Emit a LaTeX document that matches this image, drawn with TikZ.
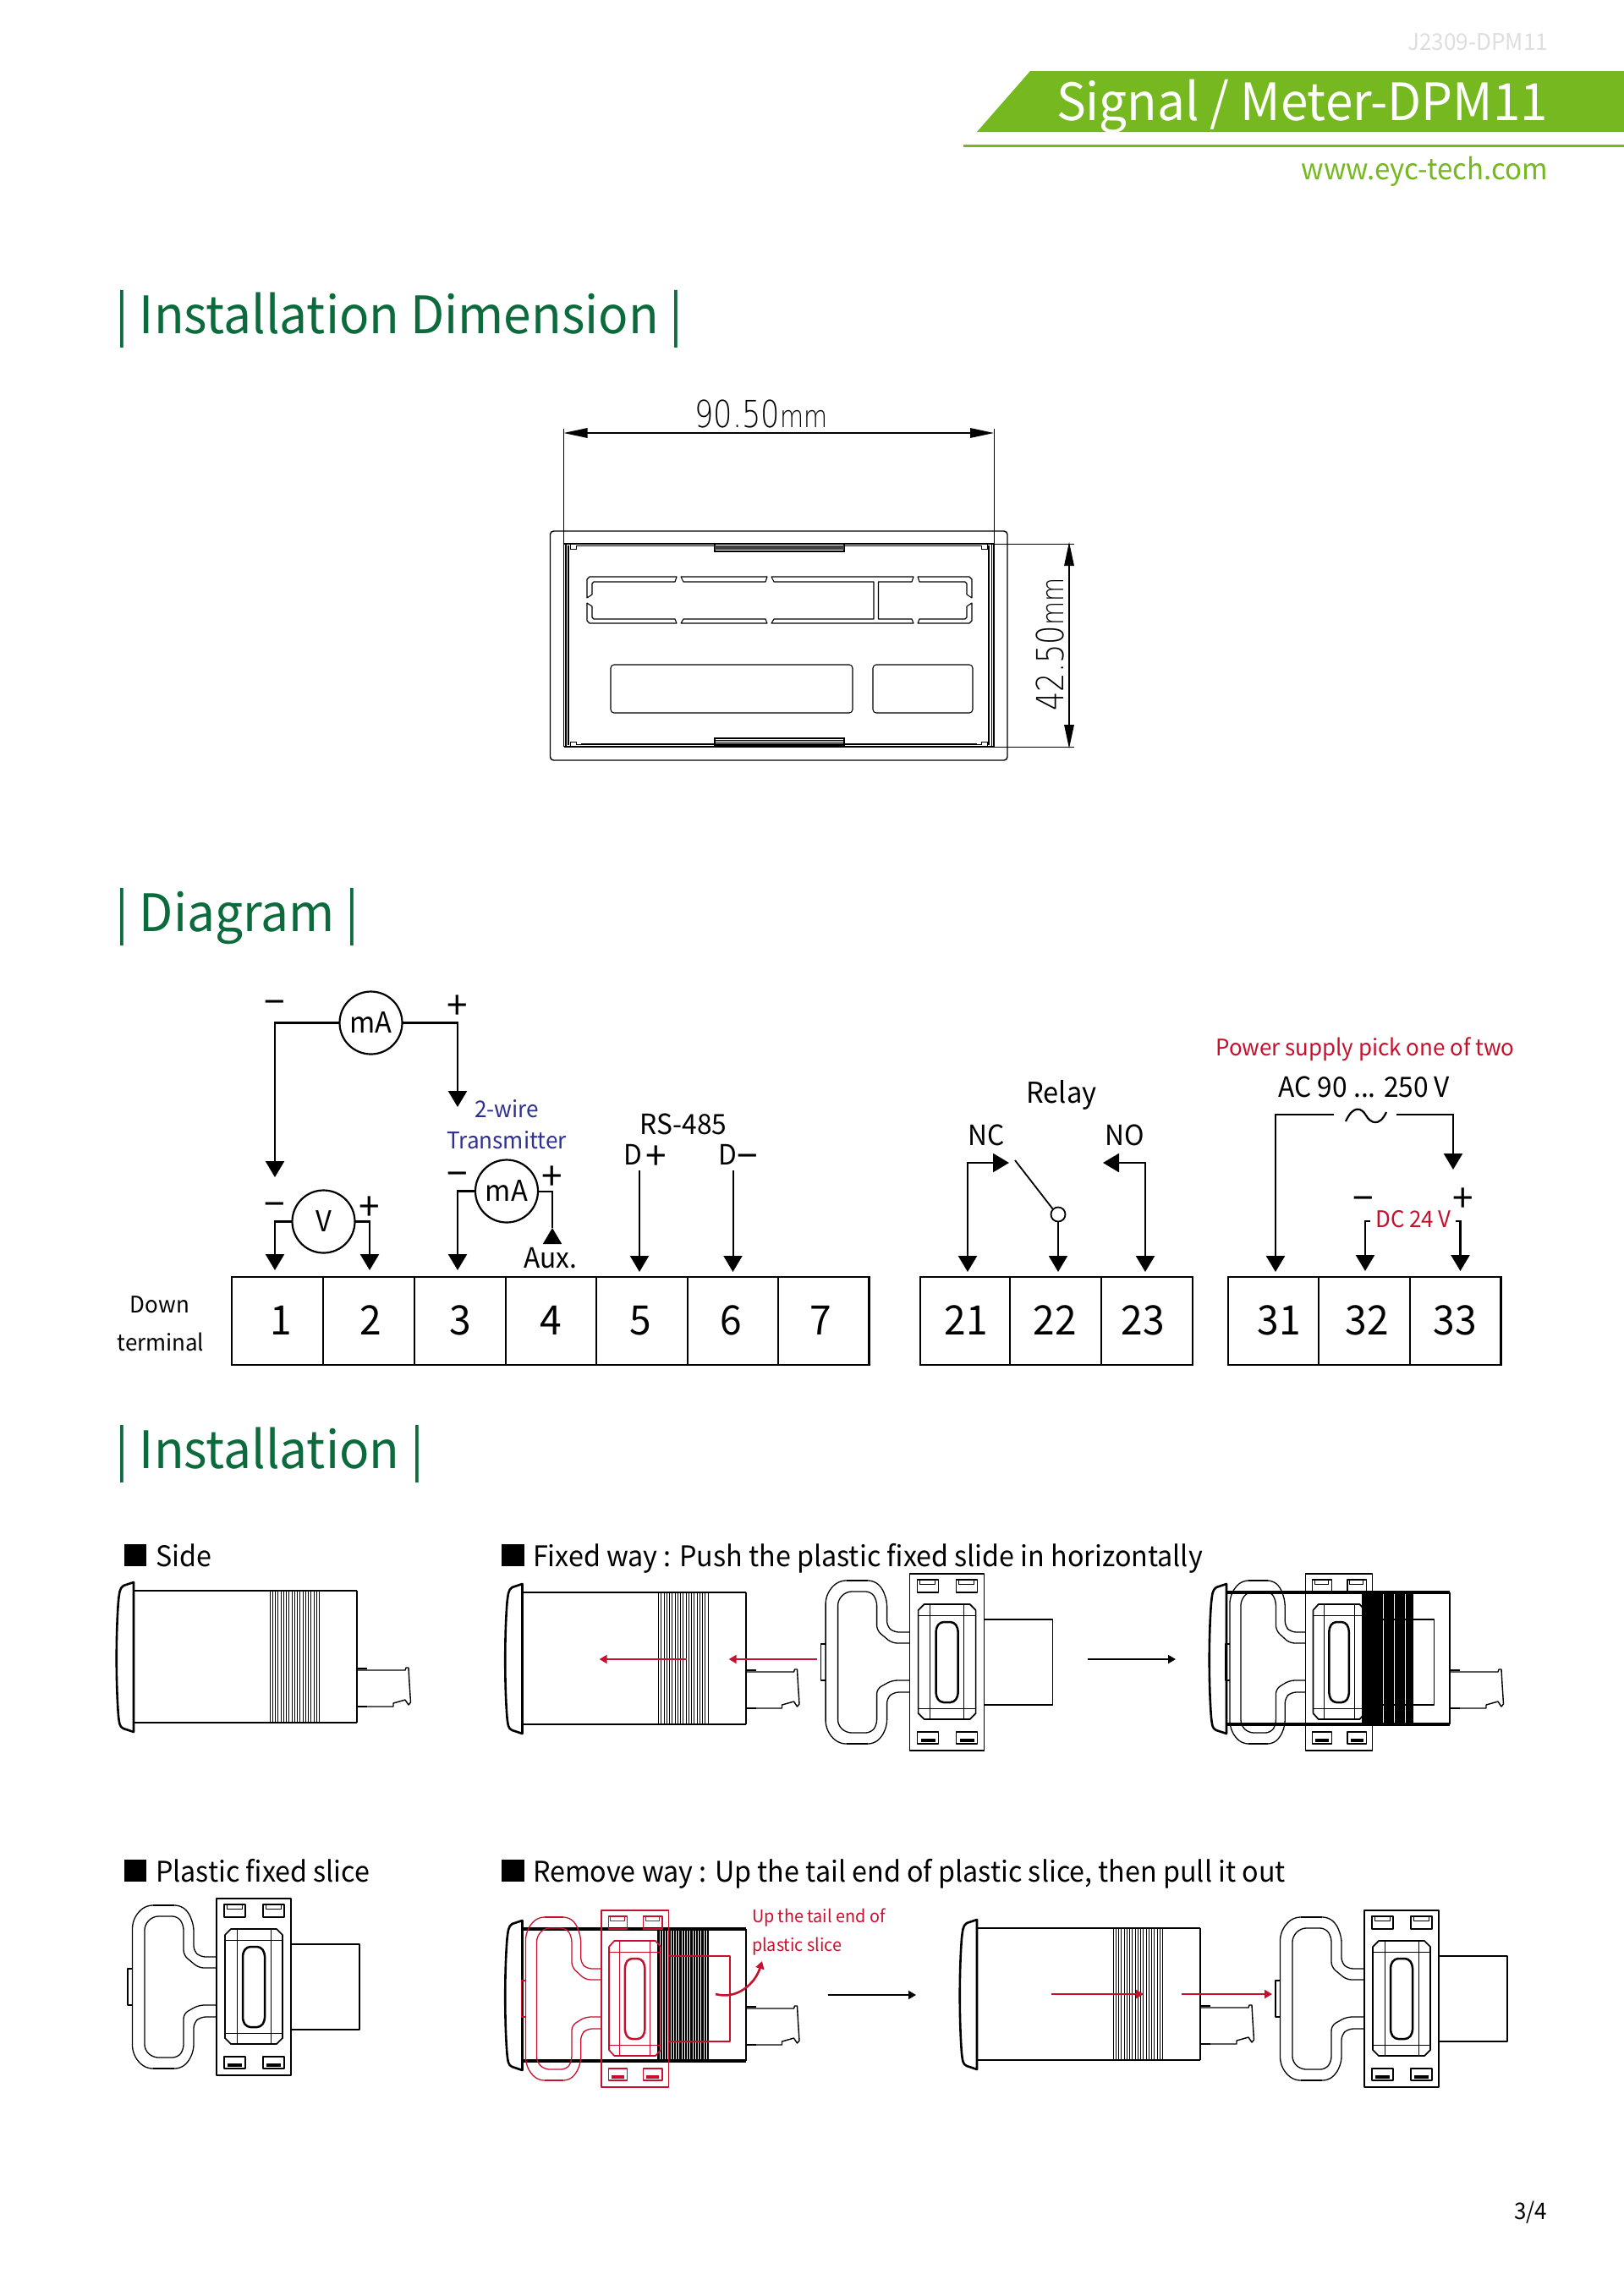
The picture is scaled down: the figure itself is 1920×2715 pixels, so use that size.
\documentclass[tikz,border=0pt]{standalone}
\usepackage{fontspec}
\setmainfont[FakeStretch=0.96]{Noto Sans CJK SC}
\newfontfamily\cadfont{DejaVu Sans ExtraLight}
\usetikzlibrary{arrows.meta,calc}
\definecolor{bannergreen}{HTML}{76B820}
\definecolor{headgreen}{HTML}{0B6B3C}
\definecolor{alertred}{HTML}{C8102E}
\definecolor{wireblue}{HTML}{2E3192}
\definecolor{codegrey}{HTML}{DEDEE0}
\newcommand\fs[1]{\fontsize{#1}{#1}\selectfont}
\newcommand\devicepic[5]{% ox oy hatch-width edge-width hatch-step
\begin{scope}[shift={(#1,#2)},line join=round]
  \draw[line width=1.3pt] (0,-10) -- (-12,-6) .. controls (-17,-3) and (-17,4) .. (-18,12) .. controls (-21,50) and (-21,110) .. (-18,148) .. controls (-17,156) and (-17,161) .. (-12,163) -- (0,167) -- cycle;
  \draw[line width=#4] (0,0) -- (264,0) (0,156) -- (264,156);
  \draw[line width=1pt] (264,0) -- (264,156);
  \foreach \h in {0,...,18} \draw[line width=#3] ({161+\h*#5},0) -- ({161+\h*#5},156);
  \draw[line width=.7pt] (264,94) -- (321,94) -- (322,91) -- (325,91) -- (326,109) -- (327.5,132) -- (325,135) -- (321,129) -- (307,133) -- (307,137) -- (264,137);
  \draw[line width=1.2pt] (264,92) -- (276,92) (264,137) -- (276,137);
\end{scope}}
\newcommand\slicepic[4]{% ox oy xscale colour
\begin{scope}[shift={(#1,#2)},xscale=#3,color=#4,line width=.65pt,line join=round]
  \draw (0,0) rectangle (88,209);
  \draw[line width=1.3pt] (0,209) -- (88,209);
  \draw (88,54) -- (169,54) -- (169,155) -- (88,155);
  \draw[rounded corners=3pt] (0,69) -- (-19,69) -- (-27,62) -- (-27,32) -- (-33,16) -- (-43,8) -- (-82,8) -- (-93,16) -- (-99.5,29) -- (-99.5,180) -- (-93,193) -- (-82,201) -- (-43,201) -- (-33,193) -- (-27,179) -- (-27,147) -- (-19,140) -- (0,140);
  \draw[rounded corners=3pt] (0,82) -- (-21,82) -- (-39,67) -- (-39,31) -- (-46,21) -- (-75,21) -- (-85,31) -- (-85,179) -- (-75,188) -- (-46,188) -- (-39,179) -- (-39,136) -- (-21,126) -- (0,126);
  \draw[line width=1.4pt] (-75,8) -- (-50,8) (-75,201) -- (-50,201);
  \draw (-99.5,83) -- (-105,83) -- (-105,126) -- (-99.5,126);
  \draw[line width=.85pt] (17,36) -- (71,36) -- (78,43) -- (78,165) -- (71,172) -- (17,172) -- (10,165) -- (10,43) -- cycle;
  \draw[line width=.5pt] (10,49) -- (78,49) (10,159) -- (78,159) (24,36) -- (24,172) (64,36) -- (64,172);
  \draw[line width=1.25pt,rounded corners=2pt] (36,57) -- (52,57) -- (57,64) -- (57,145) -- (52,152) -- (36,152) -- (31,145) -- (31,64) -- cycle;
  \foreach \ux in {9,55} {
    \draw[line width=.55pt] ({\ux},7) rectangle ({\ux+25},22);
    \draw[line width=.45pt] ({\ux+3},7) rectangle ({\ux+21},12);
    \draw[line width=.55pt] ({\ux},187) rectangle ({\ux+25},201);
    \fill ({\ux+4},195) rectangle ({\ux+21},199);
  }
\end{scope}}
\tikzset{
  x=.5pt,y=-.5pt,
  lab/.style={inner sep=0pt,outer sep=0pt,anchor=base},
  labw/.style={inner sep=0pt,outer sep=0pt,anchor=base west},
  labe/.style={inner sep=0pt,outer sep=0pt,anchor=base east},
  sym/.style={inner sep=0pt,outer sep=0pt,anchor=base,yshift=-8.6pt,font=\fs{23}},
  head/.style={labw,text=headgreen,font=\fs{30.5}},
  item/.style={labw,font=\fs{16.8}},
  termcell/.style={draw,line width=1.4pt,inner sep=0pt,outer sep=0pt,minimum height=52pt},
  termnum/.style={lab,font=\fs{24}},
  meter/.style={draw,circle,line width=1.1pt,inner sep=0pt,outer sep=0pt,minimum size=37pt,font=\fs{17}},
  wire/.style={line width=1.25pt,-{Triangle[length=9.5pt,width=11pt]}},
  wirethin/.style={line width=1pt,-{Triangle[length=9.5pt,width=11pt]}},
  wireboth/.style={line width=1.2pt,{Triangle[length=9.5pt,width=11pt]}-{Triangle[length=9.5pt,width=11pt]}},
  dimline/.style={line width=.6pt,{Triangle[length=14pt,width=5.8pt]}-{Triangle[length=14pt,width=5.8pt]}},
  thin1/.style={line width=.5pt},
  moveblack/.style={line width=1pt,-{Triangle[length=4.5pt,width=5pt]}},
  movered/.style={line width=1.3pt,alertred,-{Triangle[length=4.5pt,width=5pt]}},
}
\newcommand\cadnine{\scalebox{.8}[1]{\cadfont\fs{22}90.50\fs{18}mm}}
\newcommand\cadfour{\scalebox{.8}[1]{\cadfont\fs{22}42.50\fs{18}mm}}
\begin{document}
\begin{tikzpicture}
\useasboundingbox (0,0) rectangle (1920,2715);
\fill[white] (0,0) rectangle (1920,2715);

% header
\node[labe,text=codegrey,font=\fs{13.6}] (code) at (1830,59) {J2309-DPM11};
\fill[bannergreen] (1218,84) -- (1920,84) -- (1920,156) -- (1155,156) -- cycle;
\fill[bannergreen] (1139,170.5) rectangle (1920,173.5);
\node[labe,text=white,font=\fs{30.4}] (title) at (1830,142) {Signal / Meter-DPM11};
\node[labe,text=bannergreen,font=\fs{17.2}] (url) at (1830,212) {www.eyc-tech.com};

% headings
\node[head] (h1) at (136,394) {| Installation Dimension |};
\node[head] (h2) at (136,1101) {| Diagram |};
\node[head] (h3) at (136,1736) {| Installation |};

% installation dimension
\draw[line width=.7pt,rounded corners=2pt] (650.5,628) rectangle (1191,899);
\draw[thin1] (666.5,507) -- (666.5,643) (1175,507) -- (1175,643);
\coordinate (dl) at (666.5,512); \coordinate (dr) at (1175,512);
\draw[dimline] (dl) -- (dr);
\node[lab] (dimw) at (900,505) {\cadnine};
\draw[thin1] (1175,643) -- (1270,643) (1175,883) -- (1270,883);
\coordinate (dt) at (1264,641); \coordinate (db) at (1264,885);
\draw[dimline] (dt) -- (db);
\node[lab,rotate=90] (dimh) at (1257,762) {\cadfour};
\draw[line width=.7pt] (666.5,643) -- (1175,643) (666.5,883) -- (1175,883);
\draw[line width=.55pt] (687,645.7) -- (1155,645.7) (687,880) -- (1155,880);
\draw[line width=.55pt] (666.5,643) -- (666.5,883) (669,643) -- (669,883) (672,645) -- (672,881);
\draw[line width=.55pt] (1175,643) -- (1175,883) (1172.5,643) -- (1172.5,883) (1169,645) -- (1169,881);
\foreach \cx/\sx in {666.5/1,1175/-1} \foreach \cy/\sy in {643/1,883/-1}
  \draw[line width=.5pt] ({\cx+\sx*7.5},\cy) -- ({\cx+\sx*7.5},{\cy+\sy*6}) -- ({\cx+\sx*15},{\cy+\sy*6}) -- ({\cx+\sx*15},{\cy+\sy*2.5}) -- ({\cx+\sx*21},{\cy+\sy*2.5});
\draw[line width=.6pt] (845,643) rectangle (998,652);
\fill[black!75] (845,645) rectangle (998,650);
\draw[line width=.6pt] (845,873) rectangle (998,883);
\draw[line width=.45pt] (845,875) -- (998,875) (845,877) -- (998,877) (845,879) -- (998,879) (845,881) -- (998,881);
\begin{scope}[line width=.55pt,line join=round]
  \draw (800,682) -- (697,682) -- (694,685) -- (694,707) -- (700,703) -- (700,690) -- (702,688) -- (798,688) -- cycle;
  \draw (694,713) -- (700,717) -- (700,730) -- (702,732) -- (798,732) -- (800,737) -- (697,737) -- (694,734) -- cycle;
  \draw (805,682) -- (907,682) -- (905,688) -- (808,688) -- cycle;
  \draw (808,732) -- (905,732) -- (907,737) -- (805,737) -- cycle;
  \draw (912,682) -- (1080,682) -- (1078,688) -- (1038.5,688) -- (1038.5,732) -- (1078,732) -- (1080,737) -- (912,737) -- (915,732) -- (1033,732) -- (1033,688) -- (915,688) -- cycle;
  \draw (1085,682) -- (1146,682) -- (1149,685) -- (1149,707) -- (1143,703) -- (1143,690) -- (1141,688) -- (1087,688) -- cycle;
  \draw (1087,732) -- (1141,732) -- (1143,730) -- (1143,717) -- (1149,713) -- (1149,734) -- (1146,737) -- (1085,737) -- cycle;
  \draw[rounded corners=2pt] (722,786) rectangle (1008,843);
  \draw[rounded corners=2pt] (1032,786) rectangle (1150,843);
\end{scope}

% terminal blocks
\foreach \nm/\xa/\xb in {c1/274/382,c2/382/490,c3/490/598,c4/598/705,c5/705/813,c6/813/920,c7/920/1027.5,c21/1088/1194,c22/1194/1302,c23/1302/1410,c31/1452/1559,c32/1559/1667,c33/1667/1774.5}
  \node[termcell,minimum width={(\xb-\xa)*.5pt}] (\nm) at ({(\xa+\xb)/2},1562) {};
\foreach \nm/\xa/\tt in {n1/332/1,n2/438/2,n3/544/3,n4/651/4,n5/757/5,n6/864/6,n7/970/7,n21/1142/21,n22/1247/22,n23/1351/23,n31/1512/31,n32/1616/32,n33/1720/33}
  \node[termnum] (\nm) at (\xa,1578) {\tt};
\node[lab,font=\fs{13.5}] (down) at (189,1552) {Down};
\node[lab,font=\fs{13.5}] (termi) at (190,1597) {terminal};

% meters
\node[meter] (m1) at (438.5,1209.5) {mA};
\node[meter] (mv) at (382.5,1444.5) {V};
\node[meter] (m2) at (599,1408.5) {mA};
\coordinate (p1) at (325,1392); \coordinate (p2) at (541,1309);
\draw[wire] (m1.west) -| (p1);
\draw[wire] (m1.east) -| (p2);
\coordinate (p3) at (325,1502); \coordinate (p4) at (437,1502);
\draw[wire] (mv.west) -| (p3);
\draw[wire] (mv.east) -| (p4);
\coordinate (p5) at (541,1502); \coordinate (p6) at (653,1452); \coordinate (p6b) at (653,1470);
\draw[wire] (m2.west) -| (p5);
\draw[line width=1pt] (m2.east) -| (p6);
\draw[wirethin] (p6b) -- (p6);
\node[sym] (s1) at (325,1184) {−};
\node[sym] (s2) at (541,1188) {+};
\node[sym] (s3) at (325,1423) {−};
\node[sym] (s4) at (437,1426) {+};
\node[sym] (s5) at (541,1387) {−};
\node[sym] (s6) at (653,1390) {+};
\node[lab,text=wireblue,font=\fs{13.6}] (wire2) at (599,1321) {2-wire};
\node[lab,text=wireblue,font=\fs{13.6}] (wire3) at (599,1358) {Transmitter};
\node[lab,font=\fs{16.5}] (aux) at (651,1499) {Aux.};
\node[lab,font=\fs{16.5}] (rs) at (808,1341) {RS-485};
\node[labw,font=\fs{16.5}] (dp) at (737,1377) {D};
\node[sym] (dps) at (776,1366) {+};
\node[labw,font=\fs{16.5}] (dm) at (849,1377) {D};
\node[sym] (dms) at (884,1366) {−};
\coordinate (d1) at (756,1384); \coordinate (d1e) at (756,1504);
\coordinate (d2) at (866.5,1384); \coordinate (d2e) at (866.5,1504);
\draw[wirethin] (d1) -- (d1e);
\draw[wirethin] (d2) -- (d2e);

% relay
\node[lab,font=\fs{17}] (relay) at (1255,1304) {Relay};
\node[lab,font=\fs{16.5}] (nc) at (1166,1354) {NC};
\node[lab,font=\fs{16.5}] (no) at (1330,1354) {NO};
\coordinate (r1) at (1144,1504); \coordinate (r1t) at (1193,1375);
\draw[wireboth] (r1) |- (r1t);
\node[draw,circle,line width=.9pt,inner sep=0pt,outer sep=0pt,minimum size=8.5pt] (rc) at (1251,1436) {};
\coordinate (r2) at (1251,1504);
\draw[wirethin] (rc.south) -- (r2);
\coordinate (sw) at (1200,1372);
\draw[line width=.9pt] (sw) -- (rc.north west);
\coordinate (r3) at (1354,1504); \coordinate (r3t) at (1304,1375);
\draw[wireboth] (r3) |- (r3t);

% power
\node[lab,text=alertred,font=\fs{13.5}] (pw) at (1614,1248) {Power supply pick one of two};
\node[lab,font=\fs{16.5}] (ac) at (1613,1297) {AC 90 ... 250 V};
\coordinate (acl) at (1577,1318); \coordinate (acr) at (1651,1318);
\coordinate (a1) at (1508,1504); \coordinate (a2) at (1718,1383);
\draw[wire] (acl) -| (a1);
\draw[wire] (acr) -| (a2);
\draw[line width=1.1pt] (1591,1326) .. controls (1600,1306) and (1610,1310) .. (1615,1319) .. controls (1620,1328) and (1631,1333) .. (1639,1315);
\node[sym] (s7) at (1612,1416) {−};
\node[sym] (s8) at (1730,1416) {+};
\node[lab,text=alertred,font=\fs{13.5}] (dc) at (1671,1451) {DC 24 V};
\coordinate (dcl) at (1620,1444); \coordinate (dcr) at (1721,1444);
\coordinate (t1) at (1614,1503); \coordinate (t2) at (1726.5,1503);
\draw[wire] (dcl) -| (t1);
\draw[wire] (dcr) -| (t2);

% installation labels
\fill (147,1826) rectangle (173,1852);
\node[item] (i1) at (184,1852) {Side};
\fill (593,1826) rectangle (620,1852);
\node[item] (i2) at (630,1852) {Fixed way : Push the plastic fixed slide in horizontally};
\fill (147,2199) rectangle (173,2225);
\node[item] (i3) at (184,2225) {Plastic fixed slice};
\fill (593,2199) rectangle (620,2225);
\node[item] (i4) at (630,2225) {Remove way : Up the tail end of plastic slice, then pull it out};

% first row
\devicepic{158}{1881}{.3pt}{1.2pt}{3.25}
\devicepic{617.5}{1883}{.3pt}{1.2pt}{3.25}
\slicepic{1075.6}{1861}{1}{black}
\slicepic{1543.5}{1861}{.9}{black}
\devicepic{1450}{1883}{1.5pt}{1.6pt}{3.25}
\coordinate (ra) at (812,1962); \coordinate (rb) at (708.6,1962);
\coordinate (rc1) at (966,1962); \coordinate (rd) at (861.6,1962);
\draw[movered] (ra) -- (rb);
\draw[movered] (rc1) -- (rd);
\coordinate (ba) at (1285.7,1962); \coordinate (bb) at (1390,1962);
\draw[moveblack] (ba) -- (bb);

% second row
\slicepic{256}{2245}{1}{black}
\devicepic{617.5}{2281}{1.05pt}{1.6pt}{3.25}
\slicepic{711}{2259}{.9}{alertred}
\devicepic{1155}{2280}{.3pt}{1.2pt}{3.25}
\slicepic{1613}{2259}{1}{black}
\coordinate (ca) at (846,2358); \coordinate (cb) at (901,2319);
\draw[line width=1.3pt,alertred,-{Triangle[length=4.5pt,width=5pt]}] (ca) .. controls (872,2365) and (893,2345) .. (cb);
\node[labw,text=alertred,font=\fs{10.3}] (u1) at (889,2273) {Up the tail end of};
\node[labw,text=alertred,font=\fs{10.3}] (u2) at (889,2307) {plastic slice};
\coordinate (bc) at (979,2359); \coordinate (bd) at (1083,2359);
\draw[moveblack] (bc) -- (bd);
\coordinate (re) at (1243,2358); \coordinate (rf) at (1352,2358);
\coordinate (rg) at (1397,2358); \coordinate (rh) at (1504,2358);
\draw[movered] (re) -- (rf);
\draw[movered] (rg) -- (rh);

\node[labe,font=\fs{13.5}] (page) at (1829,2624) {3/4};
\end{tikzpicture}
\end{document}
